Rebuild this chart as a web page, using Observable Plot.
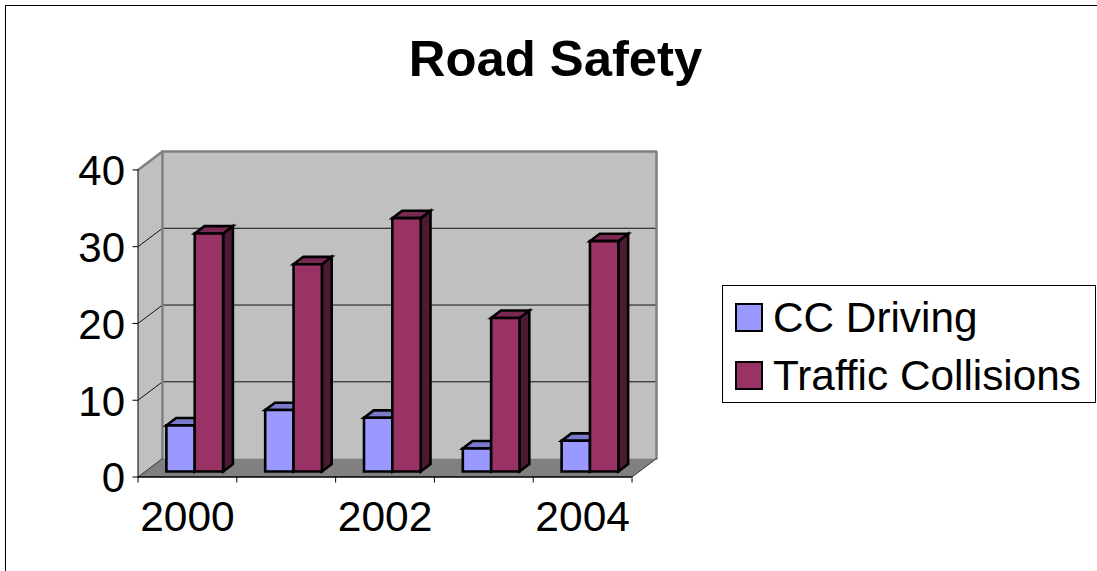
<!DOCTYPE html>
<html>
<head>
<meta charset="utf-8">
<script src="https://cdn.jsdelivr.net/npm/d3@7"></script>
<script src="https://cdn.jsdelivr.net/npm/@observablehq/plot@0.6"></script>
<style>
html,body{margin:0;padding:0;background:#fff;overflow:hidden;}
#stage{position:relative;width:1097px;height:571px;font-family:"Liberation Sans",Arial,sans-serif;color:#000;}
#stage svg{position:absolute;left:0;top:0;}
#frame{position:absolute;left:5px;top:5px;right:0;bottom:0;border-left:1px solid #000;border-top:1px solid #000;pointer-events:none;}
#title{position:absolute;left:0;width:1111px;top:30px;text-align:center;font-size:50.8px;font-weight:bold;line-height:58px;}
#legend{position:absolute;left:722px;top:285px;width:372px;height:116px;border:1px solid #000;background:#fff;}
.row{position:absolute;left:12px;height:48px;font-size:42.3px;line-height:48px;white-space:nowrap;}
.row i{position:absolute;left:0;top:9px;width:24px;height:25px;border:2px solid #000;}
.row span{position:absolute;left:38px;top:0;}
</style>
</head>
<body>
<div id="stage"></div>
<script>
const titleText = "Road Safety";
const years = [2000, 2001, 2002, 2003, 2004];
const ccDriving = [6, 8, 7, 3, 4];
const trafficCollisions = [31, 27, 33, 20, 30];
const seriesNames = ["CC Driving", "Traffic Collisions"];
const seriesColors = ["#9999FF", "#993366"];
const seriesTops = ["#7A7ACC", "#7A2952"];
const seriesSides = ["#4D4D80", "#4D1A33"];
const yTicks = [0, 10, 20, 30, 40];
const labelledYears = [2000, 2002, 2004];

// 3-D projection, in data units: how far the back plane shifts from the front plane
const depthX = 0.2477;
const depthY = 2.4;
const barNear = 0.3, barFar = 0.7, barWidth = 0.287;
const nCat = years.length, yMax = 40;

const poly = (id, fill, pts) => pts.map(([x, y]) => ({id, fill, x, y}));
const at = (x, y, d) => [x + d * depthX, y + d * depthY];

const walls = [
  ...poly("left", "#C0C0C0", [at(0,0,0), at(0,yMax,0), at(0,yMax,1), at(0,0,1)]),
  ...poly("back", "#C0C0C0", [at(0,0,1), at(0,yMax,1), at(nCat,yMax,1), at(nCat,0,1)]),
  ...poly("floor", "#808080", [at(0,0,0), at(0,0,1), at(nCat,0,1), at(nCat,0,0)])
];

const gridRows = yTicks.slice(1, -1).flatMap(v =>
  poly("g" + v, "none", [at(0,v,0), at(0,v,1), at(nCat,v,1)]));

const wallEdges = [
  ...poly("e1", "none", [at(0,yMax,0), at(0,yMax,1), at(nCat,yMax,1), at(nCat,0,1)]),
  ...poly("e2", "none", [at(0,0,1), at(0,yMax,1)])
];
const floorEdges = [
  ...poly("f1", "none", [at(nCat,0,0), at(nCat,0,1)]),
  ...poly("f2", "none", [at(0,0,0), at(0,0,1)])
];

const barFaces = [];
years.forEach((yr, i) => {
  [ccDriving[i], trafficCollisions[i]].forEach((v, s) => {
    const x0 = i + 0.5 + (s - 1) * barWidth, x1 = x0 + barWidth, id = yr + "-" + s;
    barFaces.push(
      ...poly(id + "side", seriesSides[s], [at(x1,0,barNear), at(x1,v,barNear), at(x1,v,barFar), at(x1,0,barFar)]),
      ...poly(id + "top", seriesTops[s], [at(x0,v,barNear), at(x1,v,barNear), at(x1,v,barFar), at(x0,v,barFar)]),
      ...poly(id + "front", seriesColors[s], [at(x0,0,barNear), at(x0,v,barNear), at(x1,v,barNear), at(x1,0,barNear)])
    );
  });
});

const chart = Plot.plot({
  width: 1097,
  height: 571,
  marginLeft: 137.5,
  marginRight: 1097 - 656,
  marginTop: 151,
  marginBottom: 571 - 476.5,
  style: {fontFamily: '"Liberation Sans", Arial, sans-serif', color: "#000", background: "transparent"},
  x: {domain: [0, nCat + depthX]},
  y: {domain: [0, yMax + depthY]},
  color: {type: "identity"},
  marks: [
    Plot.line(walls, {x: "x", y: "y", z: "id", fill: "fill", stroke: null, curve: "linear-closed"}),
    Plot.line(gridRows, {x: "x", y: "y", z: "id", stroke: "#111", strokeWidth: 1}),
    Plot.line(wallEdges, {x: "x", y: "y", z: "id", stroke: "#808080", strokeWidth: 2.5, strokeLinejoin: "miter"}),
    Plot.line(floorEdges, {x: "x", y: "y", z: "id", stroke: "#333", strokeWidth: 1}),
    Plot.line(barFaces, {x: "x", y: "y", z: "id", fill: "fill", stroke: "#000", strokeWidth: 2.6, strokeLinejoin: "miter", strokeMiterlimit: 4, curve: "linear-closed"}),
    Plot.ruleX([0], {y1: 0, y2: yMax, stroke: "#000", strokeWidth: 1}),
    Plot.ruleY([0], {x1: 0, x2: nCat, stroke: "#000", strokeWidth: 1.5}),
    Plot.axisY({ticks: yTicks, tickSize: 5, tickFormat: () => "", label: null, stroke: "#000"}),
    Plot.axisY({ticks: yTicks, tickSize: 0, tickPadding: 13, label: null, fontSize: 42, dy: 2}),
    Plot.axisX({ticks: d3.range(0, nCat + 1), tickSize: 6, tickFormat: () => "", label: null, stroke: "#000"}),
    Plot.axisX({ticks: labelledYears.map(y => years.indexOf(y) + 0.5), tickSize: 0, tickPadding: 24, tickFormat: d => String(years[d - 0.5]), label: null, fontSize: 42.5})
  ]
});

const stage = document.getElementById("stage");
stage.appendChild(chart);
stage.insertAdjacentHTML("beforeend",
  `<div id="frame"></div><div id="title">${titleText}</div><div id="legend">` +
  seriesNames.map((n, i) =>
    `<div class="row" style="top:${8 + i * 58}px"><i style="background:${seriesColors[i]}"></i><span>${n}</span></div>`
  ).join("") + `</div>`);
</script>
</body>
</html>
